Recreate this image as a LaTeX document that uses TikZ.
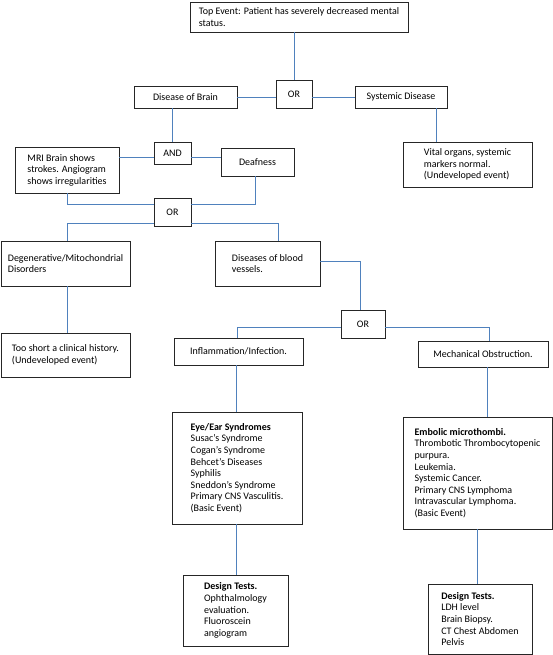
\documentclass[tikz,border=0pt]{standalone}
\usepackage{fontspec}
\setmainfont{Carlito}
\definecolor{linkblue}{RGB}{79,129,189}
\begin{document}
\begin{tikzpicture}[x=1pt,y=-1pt,
  box/.style={draw=black!85, line width=0.8pt, align=left, inner sep=0pt,
    font=\fontsize{10}{11.6}\selectfont},
  link/.style={draw=linkblue, line width=0.9pt}]
\useasboundingbox (0,0) rectangle (553,655);

% boxes
\node[box, minimum width=218, minimum height=30] (top) at (299,17)
  {Top Event: Patient has severely decreased mental\\status.};
\node[box, minimum width=36, minimum height=28] (or1) at (294,94) {OR};
\node[box, minimum width=103, minimum height=22] (brain) at (185.5,97) {Disease of Brain};
\node[box, minimum width=92, minimum height=22] (sys) at (401,97) {Systemic Disease};
\node[box, minimum width=129, minimum height=45] (vital) at (467.5,164.5)
  {Vital organs, systemic\\markers normal.\\(Undeveloped event)};
\node[box, minimum width=37, minimum height=22] (and) at (172.5,153) {AND};
\node[box, minimum width=104, minimum height=46] (mri) at (67,170)
  {MRI Brain shows\\strokes. Angiogram\\shows irregularities};
\node[box, minimum width=73, minimum height=28] (deaf) at (257.5,162) {Deafness};
\node[box, minimum width=37, minimum height=28] (or2) at (172.5,212) {OR};
\node[box, minimum width=129, minimum height=45] (degen) at (65.5,263.5)
  {Degenerative/Mitochondrial\\Disorders};
\node[box, minimum width=129, minimum height=44] (short) at (65.5,355)
  {Too short a clinical history.\\(Undeveloped event)};
\node[box, minimum width=105, minimum height=45] (blood) at (267.5,263.5)
  {Diseases of blood\\vessels.};
\node[box, minimum width=44, minimum height=28] (or3) at (363,324) {OR};
\node[box, minimum width=129, minimum height=27] (infl) at (238.5,351.5)
  {Inflammation/Infection.};
\node[box, minimum width=130, minimum height=26] (mech) at (483,354)
  {Mechanical Obstruction.};
\node[box, minimum width=130, minimum height=112] (eye) at (237,468)
  {\textbf{Eye/Ear Syndromes}\\Susac’s Syndrome\\Cogan’s Syndrome\\Behcet’s Diseases\\Syphilis\\Sneddon’s Syndrome\\Primary CNS Vasculitis.\\(Basic Event)};
\node[box, minimum width=149, minimum height=112] (emb) at (477.5,473)
  {\textbf{Embolic microthombi.}\\Thrombotic Thrombocytopenic\\purpura.\\Leukemia.\\Systemic Cancer.\\Primary CNS Lymphoma\\Intravascular Lymphoma.\\(Basic Event)};
\node[box, minimum width=105, minimum height=71] (des1) at (235.5,610.5)
  {\textbf{Design Tests.}\\Ophthalmology\\evaluation.\\Fluoroscein\\angiogram};
\node[box, minimum width=104, minimum height=70] (des2) at (480,619)
  {\textbf{Design Tests.}\\LDH level\\Brain Biopsy.\\CT Chest Abdomen\\Pelvis};

% helper coordinates for connector positions
\coordinate (xsys) at (436,0);
\coordinate (y157) at (0,157);
\coordinate (y204) at (0,204);
\coordinate (y223) at (0,223);
\coordinate (y261) at (0,261);
\coordinate (y327) at (0,327);
\coordinate (x67) at (67,0);
\coordinate (x255) at (255,0);
\coordinate (x278) at (278,0);
\coordinate (x360) at (360,0);
\coordinate (x237) at (237,0);
\coordinate (x489) at (489,0);
\coordinate (x236) at (236,0);
\coordinate (x487) at (487,0);
\coordinate (x477) at (477,0);

% connectors
\draw[link] (or1.north |- top.south) -- (or1.north);
\draw[link] (brain.east) -- (brain.east -| or1.west);
\draw[link] (sys.west -| or1.east) -- (sys.west);
\draw[link] (sys.south -| xsys) -- (vital.north -| xsys);
\draw[link] (and.north |- brain.south) -- (and.north);
\draw[link] (mri.east |- y157) -- (and.west |- y157);
\draw[link] (and.east |- y157) -- (deaf.west |- y157);
\draw[link] (mri.south -| x67) |- (or2.west |- y204);
\draw[link] (deaf.south -| x255) |- (or2.east |- y204);
\draw[link] (or2.west |- y223) -| (degen.north -| x67);
\draw[link] (or2.east |- y223) -| (blood.north -| x278);
\draw[link] (blood.east |- y261) -| (or3.north -| x360);
\draw[link] (degen.south -| x67) -- (short.north -| x67);
\draw[link] (or3.west |- y327) -| (infl.north -| x237);
\draw[link] (or3.east |- y327) -| (mech.north -| x489);
\draw[link] (infl.south -| x236) -- (eye.north -| x236);
\draw[link] (eye.south -| x236) -- (des1.north -| x236);
\draw[link] (mech.south -| x487) -- (emb.north -| x487);
\draw[link] (emb.south -| x477) -- (des2.north -| x477);
\end{tikzpicture}
\end{document}
